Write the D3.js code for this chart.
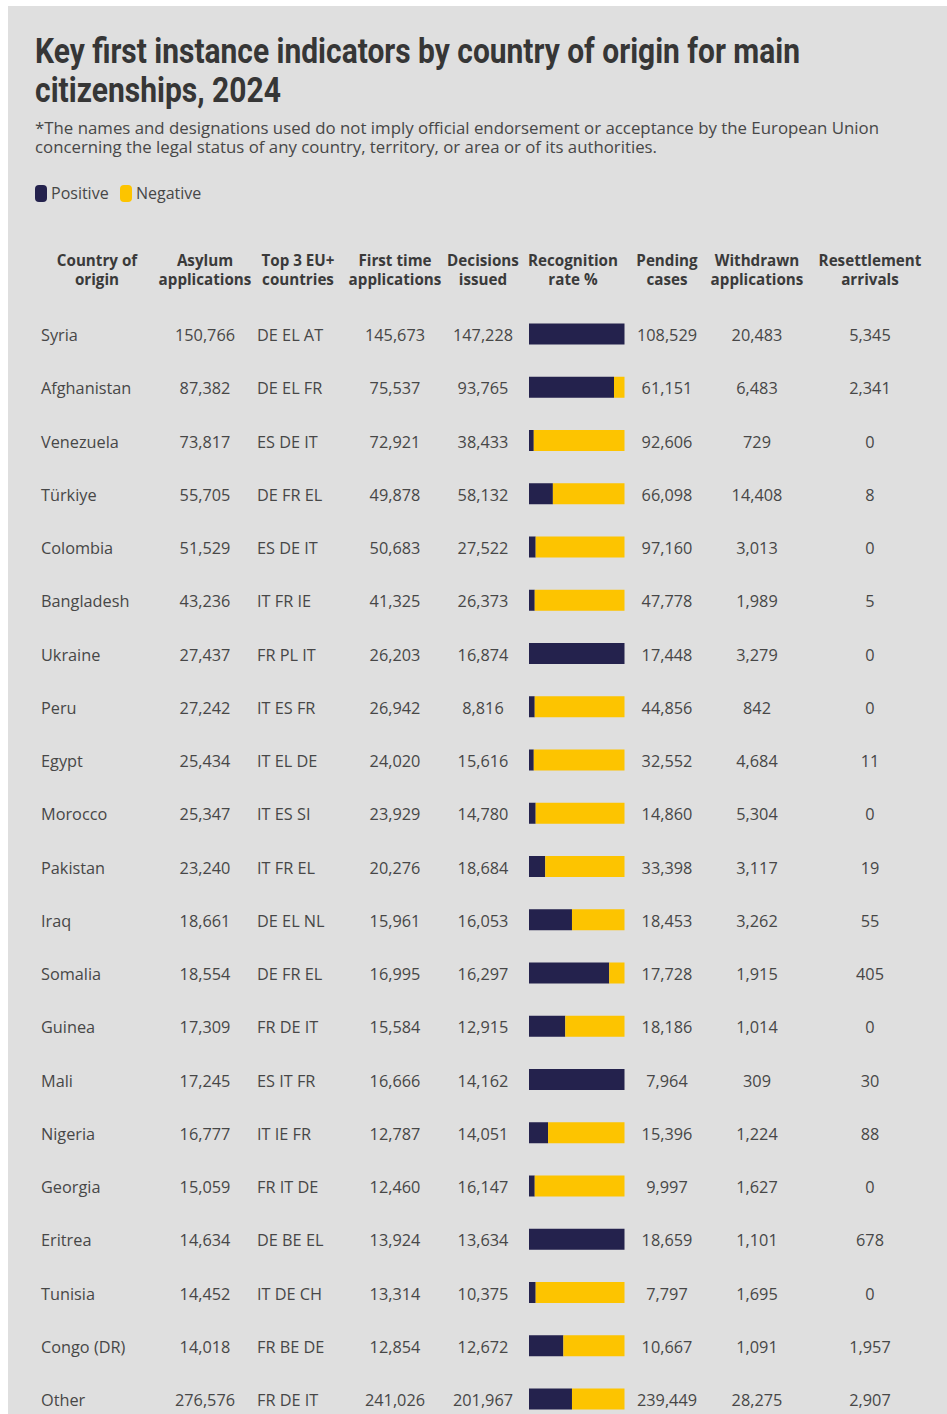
<!DOCTYPE html>
<html>
<head>
<meta charset="utf-8">
<script src="https://cdn.jsdelivr.net/npm/d3@7"></script>
<style>
  html, body { margin: 0; padding: 0; background: #ffffff; }
  svg { display: block; }
</style>
</head>
<body>
<svg id="chart" width="947" height="1414"></svg>
<script>
// Key first instance indicators, 2024
const countries = ["Syria","Afghanistan","Venezuela","Türkiye","Colombia","Bangladesh","Ukraine","Peru","Egypt","Morocco","Pakistan","Iraq","Somalia","Guinea","Mali","Nigeria","Georgia","Eritrea","Tunisia","Congo (DR)","Other"];
const asylumApplications = [150766,87382,73817,55705,51529,43236,27437,27242,25434,25347,23240,18661,18554,17309,17245,16777,15059,14634,14452,14018,276576];
const top3Countries = ["DE EL AT","DE EL FR","ES DE IT","DE FR EL","ES DE IT","IT FR IE","FR PL IT","IT ES FR","IT EL DE","IT ES SI","IT FR EL","DE EL NL","DE FR EL","FR DE IT","ES IT FR","IT IE FR","FR IT DE","DE BE EL","IT DE CH","FR BE DE","FR DE IT"];
const firstTimeApplications = [145673,75537,72921,49878,50683,41325,26203,26942,24020,23929,20276,15961,16995,15584,16666,12787,12460,13924,13314,12854,241026];
const decisionsIssued = [147228,93765,38433,58132,27522,26373,16874,8816,15616,14780,18684,16053,16297,12915,14162,14051,16147,13634,10375,12672,201967];
const recognitionRate = [100,89,5,25,7,6,100,6,5,7,17,45,84,38,100,20,6,100,7,36,45];
const pendingCases = [108529,61151,92606,66098,97160,47778,17448,44856,32552,14860,33398,18453,17728,18186,7964,15396,9997,18659,7797,10667,239449];
const withdrawnApplications = [20483,6483,729,14408,3013,1989,3279,842,4684,5304,3117,3262,1915,1014,309,1224,1627,1101,1695,1091,28275];
const resettlementArrivals = [5345,2341,0,8,0,5,0,0,11,0,19,55,405,0,30,88,0,678,0,1957,2907];

const headers = [
  ["Country of", "origin"],
  ["Asylum", "applications"],
  ["Top 3 EU+", "countries"],
  ["First time", "applications"],
  ["Decisions", "issued"],
  ["Recognition", "rate %"],
  ["Pending", "cases"],
  ["Withdrawn", "applications"],
  ["Resettlement", "arrivals"]
];

const legendItems = [
  { key: "Positive", color: "#24224d" },
  { key: "Negative", color: "#fdc400" }
];

const rows = countries.map((c, i) => ({
  country: c,
  asylum: asylumApplications[i],
  top3: top3Countries[i],
  firstTime: firstTimeApplications[i],
  decisions: decisionsIssued[i],
  rate: recognitionRate[i],
  pending: pendingCases[i],
  withdrawn: withdrawnApplications[i],
  resettlement: resettlementArrivals[i]
}));

const fmt = d3.format(",");
const svg = d3.select("#chart");
const W = 947, H = 1414;
const textColor = "#474747";
const headColor = "#3a3a3a";
const bodyFont = "'Open Sans', sans-serif";

// panel
svg.append("rect").attr("x", 8).attr("y", 6).attr("width", W - 8).attr("height", H - 6).attr("fill", "#dfdfdf");

// title
const title = svg.append("g").attr("font-family", "Roboto, sans-serif").attr("font-weight", 700)
  .attr("font-size", 35).attr("fill", "#363636");
title.append("text").attr("x", 35).attr("y", 63)
  .attr("textLength", 765).attr("lengthAdjust", "spacingAndGlyphs")
  .text("Key first instance indicators by country of origin for main");
title.append("text").attr("x", 35).attr("y", 102)
  .attr("textLength", 246).attr("lengthAdjust", "spacingAndGlyphs")
  .text("citizenships, 2024");

// note
const note = svg.append("g").attr("font-family", bodyFont).attr("font-size", 15.5).attr("fill", textColor);
note.append("text").attr("x", 35).attr("y", 134)
  .attr("textLength", 844).attr("lengthAdjust", "spacingAndGlyphs")
  .text("*The names and designations used do not imply official endorsement or acceptance by the European Union");
note.append("text").attr("x", 35).attr("y", 153)
  .attr("textLength", 622).attr("lengthAdjust", "spacingAndGlyphs")
  .text("concerning the legal status of any country, territory, or area or of its authorities.");

// legend
const legend = svg.append("g").attr("font-family", bodyFont).attr("font-size", 16).attr("fill", textColor);
const legendX = [35, 120];
legendItems.forEach((item, i) => {
  legend.append("rect").attr("x", legendX[i]).attr("y", 185).attr("width", 12).attr("height", 17)
    .attr("rx", 4).attr("fill", item.color);
  legend.append("text").attr("x", legendX[i] + 16).attr("y", 199).text(item.key);
});

// columns: header centre, value anchor
const cols = [
  { h: 97,  x: 41,  anchor: "start",  val: d => d.country },
  { h: 205, x: 205, anchor: "middle", val: d => fmt(d.asylum) },
  { h: 298, x: 257, anchor: "start",  val: d => d.top3 },
  { h: 395, x: 395, anchor: "middle", val: d => fmt(d.firstTime) },
  { h: 483, x: 483, anchor: "middle", val: d => fmt(d.decisions) },
  { h: 573, x: null },
  { h: 667, x: 667, anchor: "middle", val: d => fmt(d.pending) },
  { h: 757, x: 757, anchor: "middle", val: d => fmt(d.withdrawn) },
  { h: 870, x: 870, anchor: "middle", val: d => fmt(d.resettlement) }
];

// header
const head = svg.append("g").attr("font-family", bodyFont).attr("font-weight", 700)
  .attr("font-size", 15.2).attr("fill", headColor).attr("text-anchor", "middle");
headers.forEach((lines, i) => {
  lines.forEach((t, j) => {
    head.append("text").attr("x", cols[i].h).attr("y", 266 + j * 19).text(t);
  });
});

// rows
const y = d3.scalePoint().domain(countries).range([335, 1400]);
const x = d3.scaleLinear().domain([0, 100]).range([529, 624.5]);
const barH = 21;

const rowG = svg.append("g").selectAll("g").data(rows).join("g")
  .attr("transform", d => `translate(0,${y(d.country)})`);

cols.forEach(c => {
  if (c.x === null) return;
  rowG.append("text")
    .attr("x", c.x).attr("y", 6)
    .attr("text-anchor", c.anchor)
    .attr("font-family", bodyFont).attr("font-size", 16.3).attr("fill", textColor)
    .text(c.val);
});

// recognition rate bars: positive share then negative share
rowG.append("rect")
  .attr("x", x(0)).attr("y", -barH / 2 - 1)
  .attr("width", d => x(d.rate) - x(0)).attr("height", barH)
  .attr("fill", legendItems[0].color);
rowG.append("rect")
  .attr("x", d => x(d.rate)).attr("y", -barH / 2 - 1)
  .attr("width", d => x(100) - x(d.rate)).attr("height", barH)
  .attr("fill", legendItems[1].color);
</script>
</body>
</html>
